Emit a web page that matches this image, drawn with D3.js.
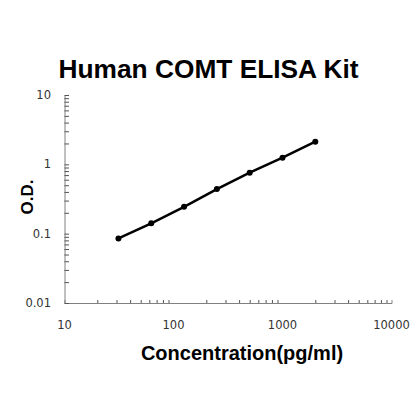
<!DOCTYPE html>
<html><head><meta charset="utf-8">
<script src="https://cdn.jsdelivr.net/npm/d3@7"></script>
<style>body{margin:0;background:#fff}svg{display:block}</style>
</head><body>
<script>
const title = "Human COMT ELISA Kit";
const xLabel = "Concentration(pg/ml)";
const yLabel = "O.D.";
const concentrations = [31.25, 62.5, 125, 250, 500, 1000, 2000];
const odValues = [0.0855, 0.141, 0.244, 0.44, 0.757, 1.245, 2.12];
const xTickValues = [10, 100, 1000, 10000];
const xTickLabels = ["10", "100", "1000", "10000"];
const yTickValues = [0.01, 0.1, 1, 10];
const yTickLabels = ["0.01", "0.1", "1", "10"];

const W = 420, H = 420;
const svg = d3.select("body").append("svg").attr("width", W).attr("height", H);
const x = d3.scaleLog().domain([10, 10000]).range([64.5, 391.5]);
const y = d3.scaleLog().domain([0.01, 10]).range([303, 95]);

function minors(lo, hi) {
  const out = [];
  for (let d = lo; d < hi; d *= 10) for (let k = 1; k <= 10; k++) out.push(d * k);
  return Array.from(new Set(out.map(v => +v.toPrecision(6))));
}
const axisColor = "#808080";
const tickFont = "DejaVu Sans, Verdana, sans-serif";
const boldFont = "Liberation Sans, Arial, sans-serif";

// X axis
const gx = svg.append("g").attr("transform", "translate(0,303)");
gx.call(d3.axisBottom(x).tickValues(minors(10, 10000)).tickSize(-3).tickFormat(""));
gx.select(".domain").attr("stroke", axisColor).attr("stroke-width", 1);
gx.selectAll(".tick line").attr("stroke", "#555").attr("stroke-width", 1);
gx.selectAll(".tick").filter(d => xTickValues.indexOf(d) >= 0).select("line").attr("y2", 0);

svg.append("g").selectAll("text").data(xTickValues).join("text")
  .attr("x", d => x(d)).attr("y", 328.5)
  .attr("text-anchor", "middle")
  .attr("font-family", tickFont)
  .attr("font-size", 11.5).attr("fill", "#333")
  .text((d, i) => xTickLabels[i]);

// Y axis
const gy = svg.append("g").attr("transform", "translate(64.5,0)");
gy.call(d3.axisLeft(y).tickValues(minors(0.01, 10)).tickSize(-4.5).tickFormat(""));
gy.select(".domain").attr("stroke", axisColor).attr("stroke-width", 1);
gy.selectAll(".tick line").attr("stroke", "#555").attr("stroke-width", 1);

svg.append("g").selectAll("text").data(yTickValues).join("text")
  .attr("x", 51).attr("y", d => y(d) + 4)
  .attr("text-anchor", "end")
  .attr("font-family", tickFont)
  .attr("font-size", 11.5).attr("fill", "#333")
  .text((d, i) => yTickLabels[i]);

// Line
const pts = concentrations.map((c, i) => [c, odValues[i]]);
svg.append("path").datum(pts)
  .attr("fill", "none").attr("stroke", "#000").attr("stroke-width", 2.5)
  .attr("d", d3.line().x(d => x(d[0])).y(d => y(d[1])));
svg.append("g").selectAll("circle").data(pts).join("circle")
  .attr("cx", d => x(d[0])).attr("cy", d => y(d[1])).attr("r", 3).attr("fill", "#000");

// Titles
svg.append("text").attr("x", 208.5).attr("y", 78).attr("text-anchor", "middle")
  .attr("font-family", boldFont).attr("font-weight", "bold")
  .attr("font-size", 26.3).attr("fill", "#000").text(title);
svg.append("text").attr("x", 242).attr("y", 360).attr("text-anchor", "middle")
  .attr("font-family", boldFont).attr("font-weight", "bold")
  .attr("font-size", 20).attr("fill", "#000").text(xLabel);
svg.append("text").attr("transform", "translate(33,197) rotate(-90)").attr("text-anchor", "middle")
  .attr("font-family", boldFont).attr("font-weight", "bold")
  .attr("font-size", 17).attr("fill", "#000").text(yLabel);
</script>
</body></html>
